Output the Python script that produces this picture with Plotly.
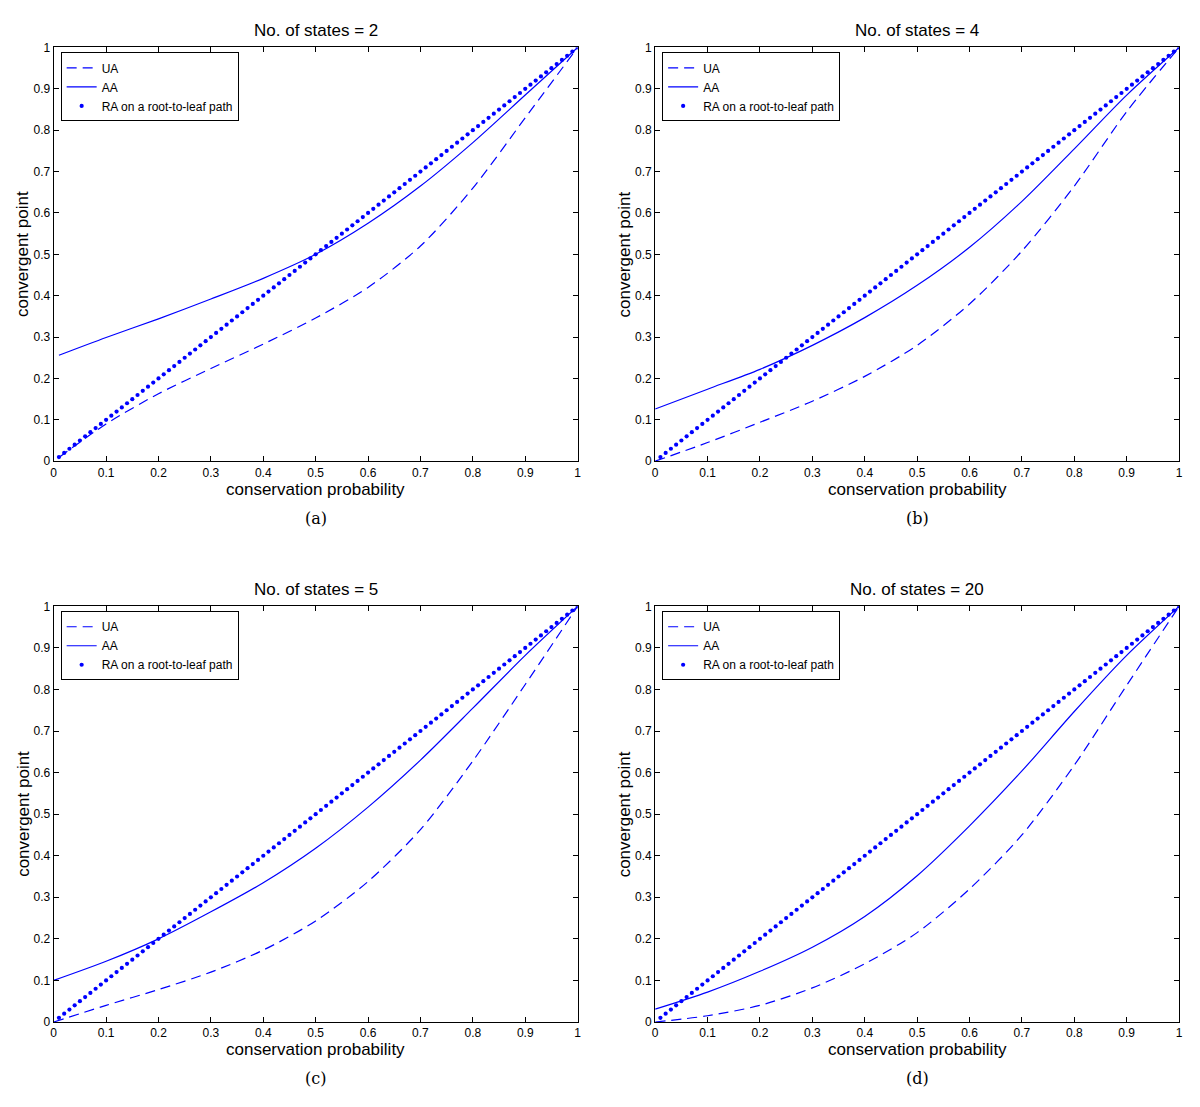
import plotly.graph_objects as go

# ---------------- data ----------------
states = [2, 4, 5, 20]
panel_labels = ["(a)", "(b)", "(c)", "(d)"]

prob_a = [0.01, 0.1, 0.2, 0.3, 0.4, 0.5, 0.6, 0.7, 0.8, 0.9, 1.0]
prob = [0.0, 0.1, 0.2, 0.3, 0.4, 0.5, 0.6, 0.7, 0.8, 0.9, 1.0]

ua_2 = [0.009, 0.09, 0.163, 0.224, 0.283, 0.346, 0.42, 0.52, 0.66, 0.83, 1.0]
aa_2 = [0.256, 0.299, 0.344, 0.392, 0.442, 0.5, 0.575, 0.665, 0.77, 0.885, 1.0]

ua_4 = [0.0, 0.045, 0.094, 0.145, 0.205, 0.28, 0.38, 0.508, 0.665, 0.845, 1.0]
aa_4 = [0.126, 0.174, 0.222, 0.28, 0.347, 0.425, 0.517, 0.628, 0.755, 0.885, 1.0]

ua_5 = [0.0, 0.04, 0.078, 0.12, 0.173, 0.243, 0.338, 0.463, 0.628, 0.812, 1.0]
aa_5 = [0.1, 0.146, 0.2, 0.265, 0.335, 0.418, 0.517, 0.63, 0.755, 0.882, 1.0]

ua_20 = [0.0, 0.015, 0.04, 0.082, 0.14, 0.215, 0.32, 0.45, 0.618, 0.81, 1.0]
aa_20 = [0.031, 0.072, 0.122, 0.18, 0.254, 0.352, 0.472, 0.604, 0.747, 0.882, 1.0]

ra_p = [0.01, 0.02, 0.03, 0.04, 0.05, 0.06, 0.07, 0.08, 0.09, 0.10,
        0.11, 0.12, 0.13, 0.14, 0.15, 0.16, 0.17, 0.18, 0.19, 0.20,
        0.21, 0.22, 0.23, 0.24, 0.25, 0.26, 0.27, 0.28, 0.29, 0.30,
        0.31, 0.32, 0.33, 0.34, 0.35, 0.36, 0.37, 0.38, 0.39, 0.40,
        0.41, 0.42, 0.43, 0.44, 0.45, 0.46, 0.47, 0.48, 0.49, 0.50,
        0.51, 0.52, 0.53, 0.54, 0.55, 0.56, 0.57, 0.58, 0.59, 0.60,
        0.61, 0.62, 0.63, 0.64, 0.65, 0.66, 0.67, 0.68, 0.69, 0.70,
        0.71, 0.72, 0.73, 0.74, 0.75, 0.76, 0.77, 0.78, 0.79, 0.80,
        0.81, 0.82, 0.83, 0.84, 0.85, 0.86, 0.87, 0.88, 0.89, 0.90,
        0.91, 0.92, 0.93, 0.94, 0.95, 0.96, 0.97, 0.98, 0.99, 1.00]
ra_point = list(ra_p)

tick_vals = [0, 0.1, 0.2, 0.3, 0.4, 0.5, 0.6, 0.7, 0.8, 0.9, 1]
tick_text = ["0", "0.1", "0.2", "0.3", "0.4", "0.5", "0.6", "0.7", "0.8", "0.9", "1"]

series = [
    (prob_a, ua_2, aa_2),
    (prob, ua_4, aa_4),
    (prob, ua_5, aa_5),
    (prob, ua_20, aa_20),
]

# ---------------- layout geometry (pixels) ----------------
W, H = 1200, 1107
ax_left = [51, 656]
ax_right = [578, 1183]
ax_top = [41, 607]
ax_bottom = [460, 1028]
xdoms = [[ax_left[c] / W, ax_right[c] / W] for c in range(2)]
ydoms = [[1 - ax_bottom[r] / H, 1 - ax_top[r] / H] for r in range(2)]

BLUE = "#0000ff"
SANS = "Liberation Sans, Arial, sans-serif"
SERIF = "DejaVu Serif, Liberation Serif, serif"

fig = go.Figure()
layout = dict(
    width=W, height=H,
    margin=dict(l=0, r=0, t=0, b=0),
    paper_bgcolor="white", plot_bgcolor="white",
    showlegend=True,
    font=dict(family=SANS, color="black"),
)
annotations = []

for i in range(4):
    row, col = divmod(i, 2)
    xd, yd = xdoms[col], ydoms[row]
    sfx = "" if i == 0 else str(i + 1)
    xa, ya = "x" + sfx, "y" + sfx
    leg = "legend" + sfx
    px, ua, aa = series[i]

    fig.add_trace(go.Scatter(
        x=px, y=ua, mode="lines", name="UA", xaxis=xa, yaxis=ya, legend=leg,
        line=dict(color=BLUE, width=1.2, dash="10px,6px", shape="spline", smoothing=0.8),
    ))
    fig.add_trace(go.Scatter(
        x=px, y=aa, mode="lines", name="AA", xaxis=xa, yaxis=ya, legend=leg,
        line=dict(color=BLUE, width=1.2, shape="spline", smoothing=0.8),
    ))
    fig.add_trace(go.Scatter(
        x=ra_p, y=ra_point, mode="markers", name="RA on a root-to-leaf path",
        xaxis=xa, yaxis=ya, legend=leg,
        marker=dict(color=BLUE, size=4.2, symbol="circle"),
    ))

    axis_common = dict(
        range=[0, 1], tickvals=tick_vals, ticktext=tick_text,
        ticks="inside", ticklen=5, tickwidth=1, tickcolor="black",
        showline=True, linecolor="black", linewidth=1, mirror="ticks",
        showgrid=False, zeroline=False, fixedrange=True,
        tickfont=dict(family=SANS, size=12, color="black"),
    )
    layout["xaxis" + sfx] = dict(axis_common, domain=xd, anchor=ya)
    layout["yaxis" + sfx] = dict(axis_common, domain=yd, anchor=xa)

    layout[leg] = dict(
        x=xd[0] + 7 / W, y=yd[1] - 5 / H, xanchor="left", yanchor="top",
        bgcolor="white", bordercolor="black", borderwidth=1,
        font=dict(family=SANS, size=12, color="black"),
        tracegroupgap=0, itemwidth=30,
    )

    xc = (xd[0] + xd[1]) / 2
    yc = (yd[0] + yd[1]) / 2
    annotations.append(dict(
        text="No. of states = %d" % states[i], xref="paper", yref="paper",
        x=xc, y=yd[1], xanchor="center", yanchor="bottom", yshift=5,
        showarrow=False, font=dict(family=SANS, size=17, color="black"),
    ))
    annotations.append(dict(
        text="conservation probability", xref="paper", yref="paper",
        x=xc, y=yd[0], xanchor="center", yanchor="middle", yshift=-28,
        showarrow=False, font=dict(family=SANS, size=17, color="black"),
    ))
    annotations.append(dict(
        text="convergent point", xref="paper", yref="paper", textangle=-90,
        x=xd[0], y=yc, xanchor="center", yanchor="middle", xshift=-31,
        showarrow=False, font=dict(family=SANS, size=17, color="black"),
    ))
    annotations.append(dict(
        text=panel_labels[i], xref="paper", yref="paper",
        x=xc, y=yd[0], xanchor="center", yanchor="middle", yshift=-57,
        showarrow=False, font=dict(family=SERIF, size=16, color="black"),
    ))

layout["annotations"] = annotations
fig.update_layout(**layout)
fig.write_html("out.html", config={"displayModeBar": False},
               post_script="document.body.style.margin='0px';")
